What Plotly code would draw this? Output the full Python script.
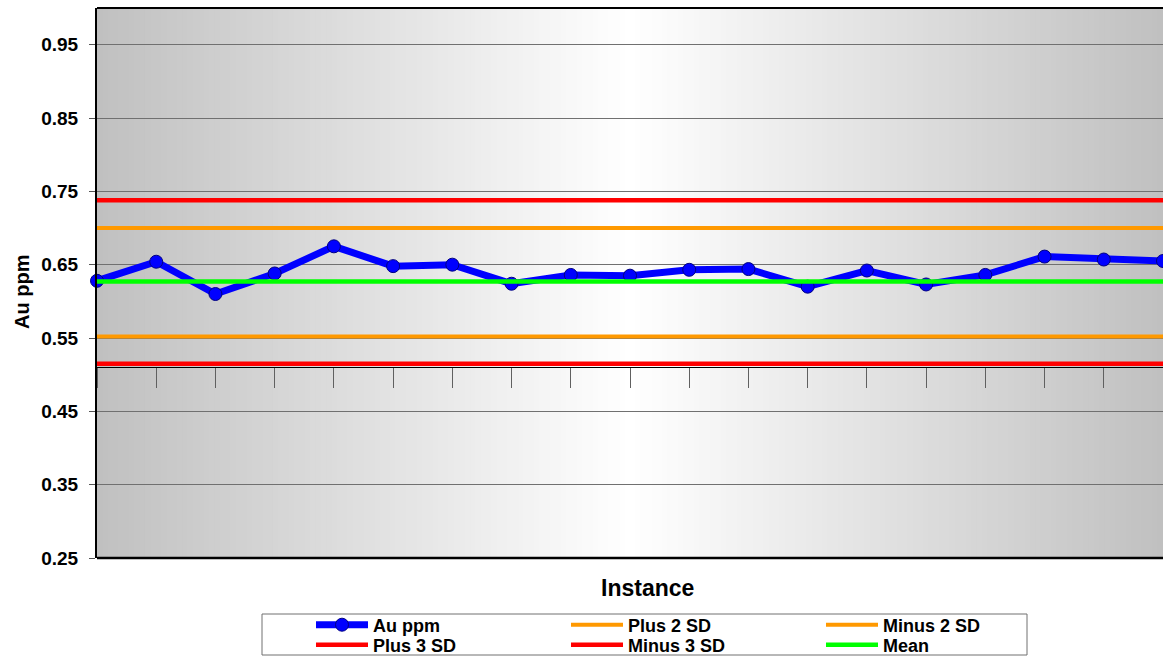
import plotly.graph_objects as go

# Control chart data: Au assay per instance plus control limits
instances = list(range(1, 20))
au_ppm = [0.628, 0.654, 0.610, 0.638, 0.675, 0.648, 0.650, 0.624, 0.636, 0.635,
          0.643, 0.644, 0.620, 0.642, 0.623, 0.636, 0.661, 0.657, 0.655]
mean_value = 0.627
plus_2sd = 0.700
minus_2sd = 0.552
plus_3sd = 0.738
minus_3sd = 0.515
x_axis_cross = 0.511
y_ticks = [0.25, 0.35, 0.45, 0.55, 0.65, 0.75, 0.85, 0.95]
y_tick_labels = ["0.25", "0.35", "0.45", "0.55", "0.65", "0.75", "0.85", "0.95"]
y_range = [0.25, 1.0]

FONT = "Arial, 'Liberation Sans', sans-serif"
W, H = 1163, 656
L, R, T, B = 97, 0, 8, 98
PW, PH = W - L - R, H - T - B


def px_x(p):
    return (p - L) / PW


def px_y(p):
    return (H - B - p) / PH


fig = go.Figure()

fig.add_trace(go.Scatter(
    x=instances, y=au_ppm, name="Au ppm", mode="lines+markers",
    line=dict(color="#0000ff", width=7),
    marker=dict(symbol="circle", size=13, color="#0000ff",
                line=dict(color="#000080", width=1)),
    cliponaxis=False, legend="legend",
))

limits = [
    ("Plus 2 SD", plus_2sd, "#ff9900", 4, "legend"),
    ("Minus 2 SD", minus_2sd, "#ff9900", 4, "legend"),
    ("Plus 3 SD", plus_3sd, "#ff0000", 4.5, "legend2"),
    ("Minus 3 SD", minus_3sd, "#ff0000", 4.5, "legend2"),
    ("Mean", mean_value, "#00ff00", 4.5, "legend2"),
]
for name, val, color, width, lg in limits:
    fig.add_trace(go.Scatter(
        x=instances, y=[val] * len(instances), name=name, mode="lines",
        line=dict(color=color, width=width), cliponaxis=False, legend=lg,
    ))

# horizontal grey-white-grey gradient behind the plot area
shapes = []
n_strips = 200
for i in range(n_strips):
    t = (i + 0.5) / n_strips
    g = int(round(192 + 63 * (1 - abs(2 * t - 1))))
    shapes.append(dict(
        type="rect", xref="paper", yref="paper",
        x0=i / n_strips, x1=(i + 1) / n_strips + 0.001, y0=0, y1=1,
        fillcolor=f"rgb({g},{g},{g})", line=dict(width=0), layer="below",
    ))
# top and bottom frame lines
shapes.append(dict(type="line", xref="paper", yref="paper", x0=0, x1=1, y0=1, y1=1,
                   line=dict(color="#000000", width=2), layer="above"))
shapes.append(dict(type="line", xref="paper", yref="paper", x0=0, x1=1, y0=0, y1=0,
                   line=dict(color="#000000", width=2.5), layer="above"))
# legend frame
shapes.append(dict(type="rect", xref="paper", yref="paper",
                   x0=px_x(262), x1=px_x(1027), y0=px_y(655), y1=px_y(614),
                   line=dict(color="#707070", width=1), fillcolor="rgba(0,0,0,0)",
                   layer="above"))

legend_common = dict(
    orientation="h", xanchor="left", yanchor="middle",
    entrywidth=188, entrywidthmode="pixels", itemwidth=52,
    font=dict(family=FONT, size=18, color="#000000", weight="bold"),
    bgcolor="rgba(0,0,0,0)", borderwidth=0, traceorder="normal",
)

fig.update_layout(
    width=W, height=H, autosize=False,
    margin=dict(l=L, r=R, t=T, b=B, pad=0, autoexpand=False),
    paper_bgcolor="#ffffff", plot_bgcolor="#c0c0c0",
    showlegend=True,
    legend=dict(x=px_x(311), y=px_y(625), **legend_common),
    legend2=dict(x=px_x(311), y=px_y(645), **legend_common),
    xaxis=dict(
        range=[instances[0], instances[-1]], anchor="free",
        position=(x_axis_cross - y_range[0]) / (y_range[1] - y_range[0]),
        tickmode="linear", tick0=instances[0], dtick=1,
        ticks="outside", ticklen=20, tickwidth=1, tickcolor="#606060",
        showticklabels=False, showgrid=False, zeroline=False,
        showline=True, linecolor="#000000", linewidth=1,
    ),
    yaxis=dict(
        range=y_range, domain=[0, 1],
        tickmode="array", tickvals=y_ticks, ticktext=y_tick_labels,
        ticks="outside", ticklen=6, tickwidth=1, tickcolor="#555555",
        ticklabelstandoff=7,
        tickfont=dict(family=FONT, size=19, color="#000000", weight="bold"),
        showgrid=True, gridcolor="#707070", gridwidth=1,
        zeroline=False, showline=True, linecolor="#000000", linewidth=2,
    ),
    shapes=shapes,
    annotations=[
        dict(text="Instance", xref="paper", yref="paper",
             x=px_x(647), y=px_y(588), xanchor="center", yanchor="middle",
             showarrow=False,
             font=dict(family=FONT, size=23, color="#000000", weight="bold")),
        dict(text="Au ppm", xref="paper", yref="paper",
             x=px_x(22), y=px_y(292), xanchor="center", yanchor="middle",
             textangle=-90, showarrow=False,
             font=dict(family=FONT, size=20, color="#000000", weight="bold")),
    ],
)

fig.write_html("out.html")
